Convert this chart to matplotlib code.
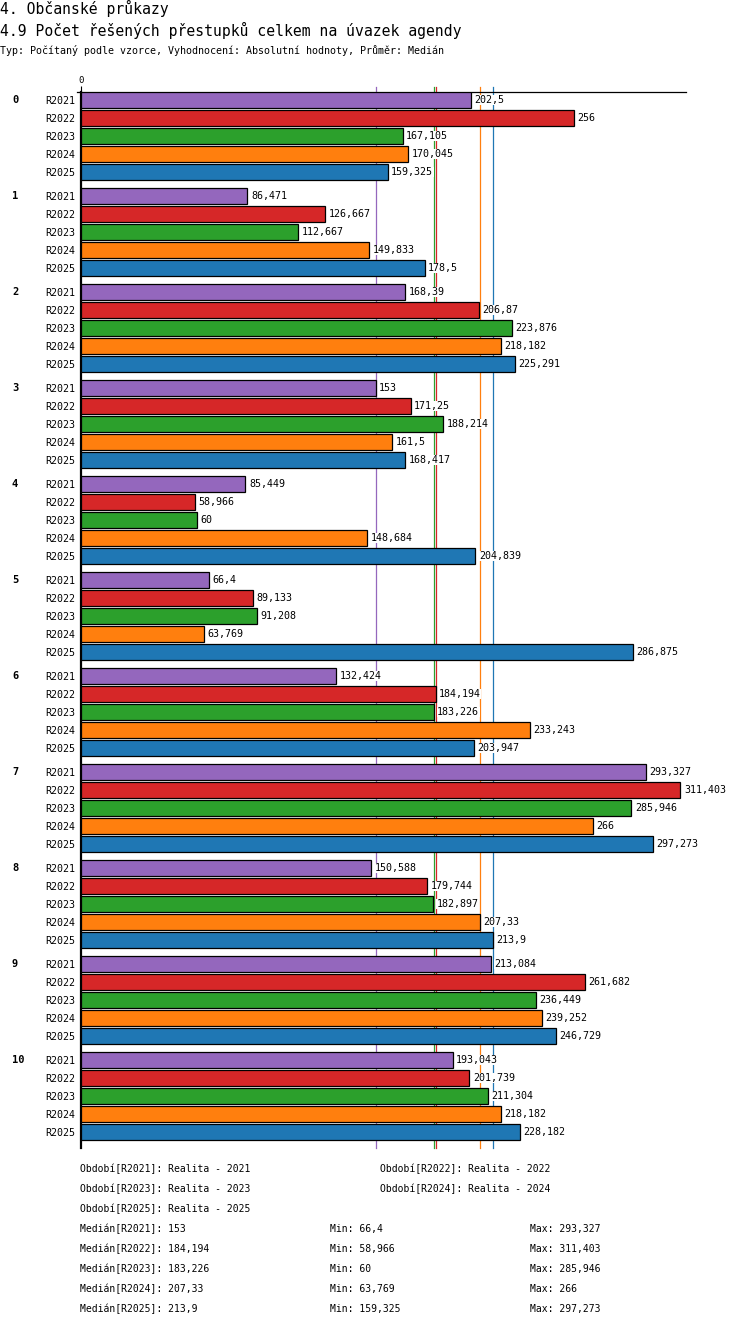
import numpy as np
import matplotlib
matplotlib.use('Agg')
import matplotlib.pyplot as plt

# data
groups = ['0', '1', '2', '3', '4', '5', '6', '7', '8', '9', '10']
series = ['R2021', 'R2022', 'R2023', 'R2024', 'R2025']
colors = ['#9467bd', '#d62728', '#2ca02c', '#ff7f0e', '#1f77b4']

r2021 = [202.5, 86.471, 168.39, 153, 85.449, 66.4, 132.424, 293.327, 150.588, 213.084, 193.043]
r2022 = [256, 126.667, 206.87, 171.25, 58.966, 89.133, 184.194, 311.403, 179.744, 261.682, 201.739]
r2023 = [167.105, 112.667, 223.876, 188.214, 60, 91.208, 183.226, 285.946, 182.897, 236.449, 211.304]
r2024 = [170.045, 149.833, 218.182, 161.5, 148.684, 63.769, 233.243, 266, 207.33, 239.252, 218.182]
r2025 = [159.325, 178.5, 225.291, 168.417, 204.839, 286.875, 203.947, 297.273, 213.9, 246.729, 228.182]
values = [r2021, r2022, r2023, r2024, r2025]

medians = [153, 184.194, 183.226, 207.33, 213.9]
period_names = ['Realita - 2021', 'Realita - 2022', 'Realita - 2023', 'Realita - 2024', 'Realita - 2025']

W, H = 750, 1328
FONT = 'DejaVu Sans Mono'
plt.rcParams['font.family'] = [FONT, 'DejaVu Sans']


def fmt(v):
    s = f'{v:.3f}'.rstrip('0').rstrip('.')
    return s.replace('.', ',')


def px(x, y):
    return x / W, 1 - y / H


fig = plt.figure(figsize=(W / 100, H / 100), dpi=100)

# osa grafu v pixelech: x 81..686, y 92..1148
ax = fig.add_axes([81 / W, 1 - 1148 / H, 605 / W, 1056 / H])
scale = 1.925
ax.set_xlim(0, 605 / scale)
ax.set_ylim(1048, -8)

row_h = 18
group_h = 96

ypos_all = []
ylab_all = []
for si, name in enumerate(series):
    ys = [g * group_h + si * row_h for g in range(len(groups))]
    ax.barh(ys, values[si], height=16, color=colors[si], edgecolor='black',
            linewidth=0.9, zorder=3)
    for y, v in zip(ys, values[si]):
        ax.annotate(fmt(v), (v, y), xytext=(2.5, 0), textcoords='offset points',
                    va='center', ha='left', fontsize=7.2, family=FONT, zorder=4,
                    bbox=dict(facecolor='white', edgecolor='none', pad=0.3))
    ypos_all += ys
    ylab_all += [name] * len(ys)

# mediany
for si in range(len(series)):
    ax.axvline(medians[si], ymin=0, ymax=1 + 5 / 1056, color=colors[si],
               linewidth=0.9, zorder=1, clip_on=False)

ax.set_yticks(ypos_all)
ax.set_yticklabels(ylab_all, fontsize=7.2)
ax.tick_params(axis='y', length=0, pad=4)

for g, lab in enumerate(groups):
    ax.text(-69 / 605, g * group_h, lab, transform=ax.get_yaxis_transform(),
            ha='left', va='center', fontsize=7.5, fontweight='bold')

ax.xaxis.tick_top()
ax.set_xticks([0])
ax.set_xticklabels(['0'], fontsize=6.5)
ax.tick_params(axis='x', length=4, width=0.8, pad=1, direction='out')

for side in ['right', 'bottom']:
    ax.spines[side].set_visible(False)
ax.spines['left'].set_linewidth(1.6)
ax.spines['top'].set_linewidth(0.9)
ax.spines['top'].set_bounds(-4 / scale, 605 / scale)

# titulky
fig.text(*px(0, 8), '4. Občanské průkazy', fontsize=10.6, va='center', ha='left')
fig.text(*px(0, 30), '4.9 Počet řešených přestupků celkem na úvazek agendy',
         fontsize=10.6, va='center', ha='left')
fig.text(*px(0, 50), 'Typ: Počítaný podle vzorce, Vyhodnocení: Absolutní hodnoty, Průměr: Medián',
         fontsize=7.2, va='center', ha='left')

# legenda obdobi
for i, (name, per) in enumerate(zip(series, period_names)):
    col = i % 2
    row = i // 2
    fig.text(*px(80 + 300 * col, 1169 + 20 * row), f'Období[{name}]: {per}',
             fontsize=7.0, va='center', ha='left')

# statistiky
for i, name in enumerate(series):
    y = 1229 + 20 * i
    fig.text(*px(80, y), f'Medián[{name}]: {fmt(medians[i])}', fontsize=7.0, va='center')
    fig.text(*px(330, y), f'Min: {fmt(min(values[i]))}', fontsize=7.0, va='center')
    fig.text(*px(530, y), f'Max: {fmt(max(values[i]))}', fontsize=7.0, va='center')

fig.savefig('out.png', dpi=100)
